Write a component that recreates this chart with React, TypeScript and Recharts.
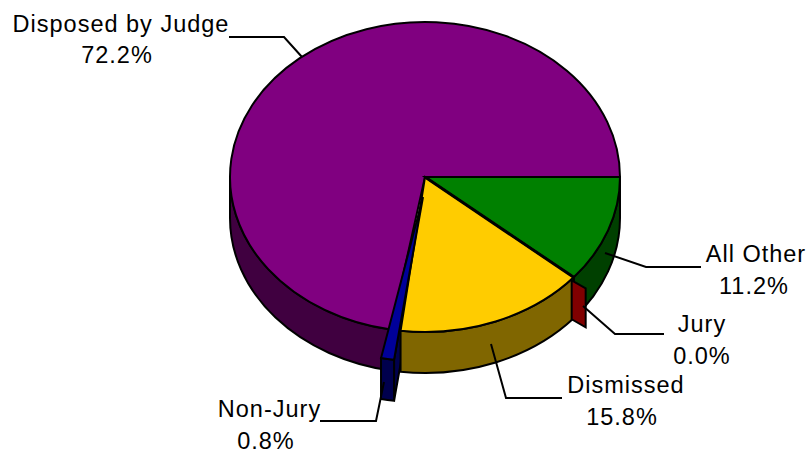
import { Pie, PieChart } from "recharts";

const categories = ["All Other", "Jury", "Dismissed", "Non-Jury", "Disposed by Judge"];
const shares = [11.2, 0.0, 15.8, 0.8, 72.2];
const topColors = ["#008000", "#800000", "#FFCC00", "#000099", "#800080"];
const wallColors = ["#004000", "#800000", "#806600", "#00004D", "#400040"];

const data = categories.map((name, i) => ({ name, value: shares[i] }));

const CX = 425;
const CY = 177;
const RX = 195;
const SQUASH = 155 / 195;
const DEPTH = 41;
const STROKE = { stroke: "#000", strokeWidth: 2, strokeLinejoin: "miter" as const };

// Non-Jury is pulled out: rim and tip move by different amounts in the original
const RIM_PULL = { x: -6.5, y: 29 };
const TIP_PULL = { x: -2, y: 20 };
const SLIVER_EXTRA_DEG = 1;

// label text centres and leader elbows, reference pixels
const labelLayout: Record<string, { nameX: number; pctX: number; nameY: number; leader: string }> = {
  "All Other": { nameX: 756, pctX: 754, nameY: 262, leader: "605,253 646,267 701,267" },
  Jury: { nameX: 702, pctX: 702, nameY: 332, leader: "583,306 615,334 664,334" },
  Dismissed: { nameX: 626, pctX: 622, nameY: 393, leader: "491,344 506,398 562,398" },
  "Non-Jury": { nameX: 269.5, pctX: 266, nameY: 417, leader: "384,382 376,421 320,421" },
  "Disposed by Judge": { nameX: 121, pctX: 117, nameY: 31.5, leader: "302,57 284,37 229,37" },
};

const rad = (deg: number) => (deg * Math.PI) / 180;

function pt(t: number, r: number, cx: number, cy: number): [number, number] {
  return [cx + r * Math.cos(rad(t)), cy + r * SQUASH * Math.sin(rad(t))];
}

function topPath(t1: number, t2: number, r: number, cx: number, cy: number) {
  const a = pt(t1, r, cx, cy);
  const b = pt(t2, r, cx, cy);
  const large = t2 - t1 > 180 ? 1 : 0;
  const ry = r * SQUASH;
  return `M${cx},${cy} L${a[0]},${a[1]} A${r},${ry} 0 ${large} 1 ${b[0]},${b[1]} Z`;
}

function wallPath(t1: number, t2: number, r: number, cx: number, cy: number) {
  const a = pt(t1, r, cx, cy);
  const b = pt(t2, r, cx, cy);
  const ry = r * SQUASH;
  return `M${a[0]},${a[1]} A${r},${ry} 0 0 1 ${b[0]},${b[1]} L${b[0]},${b[1] + DEPTH} A${r},${ry} 0 0 0 ${a[0]},${a[1] + DEPTH} Z`;
}

function Wall(props: any) {
  const i = categories.indexOf(props.name);
  const t1 = -props.startAngle;
  const t2 = Math.min(-props.endAngle, 180);
  return <path d={wallPath(t1, t2, props.outerRadius, props.cx, props.cy)} fill={wallColors[i]} {...STROKE} />;
}

function Top(props: any) {
  const i = categories.indexOf(props.name);
  return <path d={topPath(-props.startAngle, -props.endAngle, props.outerRadius, props.cx, props.cy)} fill={topColors[i]} {...STROKE} />;
}

// back of the pie: green wall, purple wall and top
function BackShape(props: any) {
  if (props.name === "All Other") return <Wall {...props} />;
  if (props.name === "Disposed by Judge")
    return (
      <g>
        <Wall {...props} />
        <Top {...props} />
      </g>
    );
  return null;
}

// side face of the pulled out sliver, yellow goes over it
function FaceShape(props: any) {
  if (props.name !== "Non-Jury") return null;
  const i = categories.indexOf(props.name);
  const tipX = props.cx + TIP_PULL.x;
  const tipY = props.cy + TIP_PULL.y;
  const rim = pt(-props.startAngle, props.outerRadius, props.cx + RIM_PULL.x, props.cy + RIM_PULL.y);
  return (
    <polygon
      points={`${tipX},${tipY} ${rim[0]},${rim[1]} ${rim[0]},${rim[1] + DEPTH} ${tipX},${tipY + DEPTH}`}
      fill={wallColors[i]}
      {...STROKE}
    />
  );
}

function FrontShape(props: any) {
  if (props.name === "All Other") return <Top {...props} />;
  if (props.name === "Dismissed")
    return (
      <g>
        <Wall {...props} />
        <Top {...props} />
      </g>
    );
  return null;
}

function ExplodedShape(props: any) {
  const i = categories.indexOf(props.name);
  const t1 = -props.startAngle;
  const t2 = -props.endAngle;
  const r = props.outerRadius;
  if (props.name === "Jury") {
    const a = pt(t1, r, props.cx, props.cy);
    const ax = a[0] - 2;
    const ay = a[1] + 3;
    return (
      <g>
        <line x1={props.cx} y1={props.cy} x2={a[0]} y2={a[1]} stroke="#000" strokeWidth={3} />
        <polygon
          points={`${ax},${ay} ${ax + 14},${ay + 8} ${ax + 14},${ay + 8 + DEPTH - 2} ${ax},${ay + DEPTH - 2}`}
          fill={topColors[i]}
          {...STROKE}
        />
      </g>
    );
  }
  if (props.name === "Non-Jury") {
    const rimCx = props.cx + RIM_PULL.x;
    const rimCy = props.cy + RIM_PULL.y;
    const end = t2 + SLIVER_EXTRA_DEG;
    const a = pt(t1, r, rimCx, rimCy);
    const b = pt(end, r, rimCx, rimCy);
    const tipX = props.cx + TIP_PULL.x;
    const tipY = props.cy + TIP_PULL.y;
    const ry = r * SQUASH;
    return (
      <g>
        <path d={wallPath(t1, end, r, rimCx, rimCy)} fill={wallColors[i]} {...STROKE} />
        <path
          d={`M${tipX},${tipY} L${a[0]},${a[1]} A${r},${ry} 0 0 1 ${b[0]},${b[1]} Z`}
          fill={topColors[i]}
          {...STROKE}
        />
      </g>
    );
  }
  return null;
}

function renderLabel(props: any) {
  const l = labelLayout[props.name];
  const font = { fontFamily: "Liberation Sans", fontSize: 23.5, letterSpacing: 1, fill: "#000", textAnchor: "middle" as const };
  return (
    <g key={props.name}>
      <polyline points={l.leader} fill="none" stroke="#000" strokeWidth={2} />
      <text x={l.nameX} y={l.nameY} {...font}>
        {props.name}
      </text>
      <text x={l.pctX} y={l.nameY + 31.5} {...font}>
        {`${props.value.toFixed(1)}%`}
      </text>
    </g>
  );
}

export default function App() {
  const pieProps = {
    data,
    dataKey: "value",
    nameKey: "name",
    cx: CX,
    cy: CY,
    outerRadius: RX,
    startAngle: 0,
    endAngle: -360,
    stroke: "none",
    isAnimationActive: false,
  };
  return (
    <div style={{ position: "absolute", left: 0, top: 0, width: 809, height: 451, background: "#fff" }}>
      <PieChart width={809} height={451} margin={{ top: 0, right: 0, bottom: 0, left: 0 }}>
        <Pie {...pieProps} shape={BackShape} />
        <Pie {...pieProps} shape={FaceShape} />
        <Pie {...pieProps} shape={FrontShape} />
        <Pie {...pieProps} shape={ExplodedShape} label={renderLabel} labelLine={false} />
      </PieChart>
    </div>
  );
}
